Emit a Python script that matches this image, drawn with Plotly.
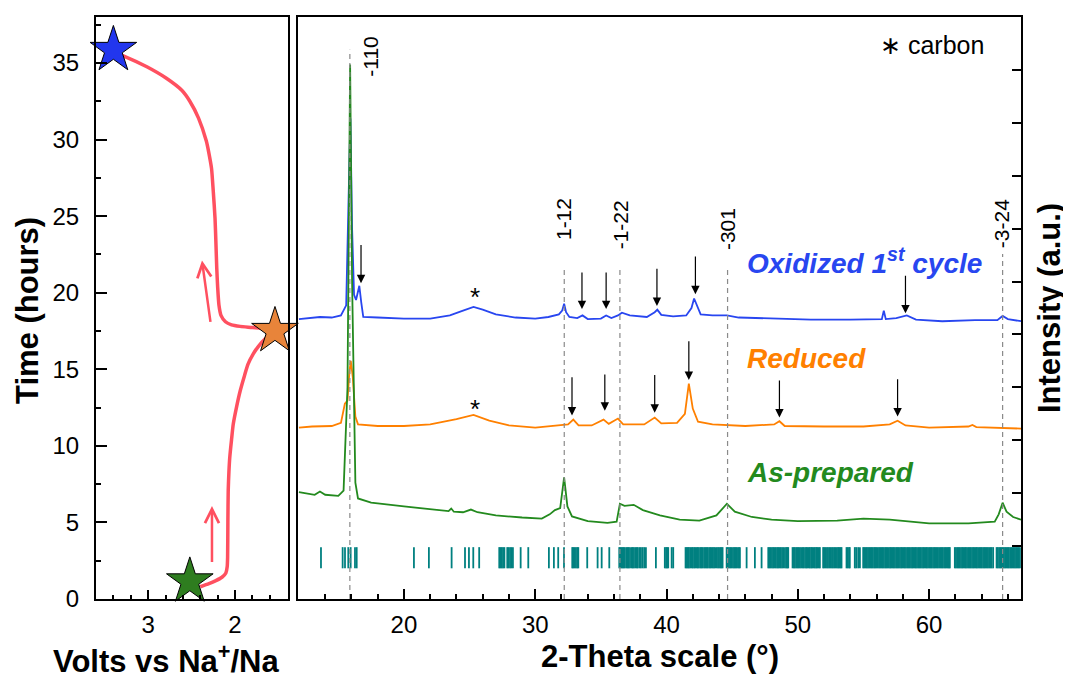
import plotly.graph_objects as go

FONT = "Liberation Sans, Arial, Helvetica, sans-serif"

# ---------------- Left panel: galvanostatic profile ----------------
volts = [2.40, 2.30, 2.22, 2.15, 2.105, 2.09, 2.085, 2.082, 2.078, 2.07, 2.06, 2.04,
         2.02, 1.98, 1.94, 1.89, 1.85, 1.79, 1.73, 1.64, 1.56,
         1.64, 1.80, 1.94, 2.04, 2.11, 2.16, 2.185, 2.20, 2.21, 2.22, 2.23, 2.25,
         2.27, 2.30, 2.33, 2.42, 2.52, 2.61, 2.79, 3.015, 3.26, 3.38]
hours = [0.80, 1.00, 1.20, 1.42, 1.70, 2.10, 2.75, 5.0, 7.1, 8.3, 9.26, 10.4,
         11.43, 12.6, 13.6, 14.6, 15.33, 16.0, 16.5, 17.05, 17.4,
         17.62, 17.72, 17.80, 17.90, 18.10, 18.50, 19.2, 20.4, 21.6, 23.3, 24.87, 26.6,
         28.1, 29.1, 29.9, 31.4, 32.5, 33.2, 34.0, 34.75, 35.4, 35.65]

star_volts = [3.40, 1.54, 2.52]
star_hours = [35.85, 17.5, 1.15]
star_colors = ["#2236EE", "#E8843A", "#2E7D1F"]

# ---------------- Right panel: XRD patterns ----------------
tt_oxidized = [12.0, 12.8, 13.6, 14.5, 15.2, 15.6, 15.8, 15.92, 16.05, 16.2, 16.35, 16.5,
               16.6, 16.75, 16.9, 18.0, 20.0, 22.0, 23.5, 24.5, 25.3, 26.0, 27.0, 28.5,
               30.0, 31.0, 31.8, 32.05, 32.2, 32.35, 32.6, 33.2, 33.6, 34.0, 35.0, 35.4,
               35.8, 36.3, 36.6, 37.2, 38.5, 39.1, 39.3, 39.6, 40.5, 41.5, 41.9, 42.1,
               42.3, 42.6, 43.5, 44.6, 45.5, 48.0, 51.0, 54.0, 56.4, 56.55, 56.7, 57.5,
               58.3, 59.0, 61.0, 63.5, 65.2, 65.6, 66.0, 67.0]
int_oxidized = [5.29, 5.31, 5.33, 5.32, 5.36, 5.55, 7.5, 9.08, 7.0, 5.75, 5.65, 5.85,
                5.92, 5.6, 5.33, 5.32, 5.30, 5.30, 5.36, 5.45, 5.52, 5.47, 5.38, 5.32,
                5.30, 5.33, 5.38, 5.45, 5.58, 5.42, 5.33, 5.31, 5.36, 5.29, 5.30, 5.36,
                5.31, 5.36, 5.41, 5.36, 5.33, 5.42, 5.47, 5.37, 5.34, 5.36, 5.50, 5.68,
                5.55, 5.38, 5.36, 5.36, 5.32, 5.30, 5.28, 5.28, 5.29, 5.45, 5.29, 5.31,
                5.36, 5.28, 5.25, 5.27, 5.27, 5.35, 5.29, 5.25]

tt_reduced = [12.0, 13.0, 14.5, 15.2, 15.5, 15.7, 15.85, 15.95, 16.1, 16.3, 16.5, 18.0,
              20.0, 22.0, 24.0, 25.3, 26.5, 28.0, 30.0, 31.5, 32.5, 32.9, 33.3, 34.3,
              35.2, 35.6, 36.3, 36.7, 38.3, 39.1, 39.6, 40.8, 41.4, 41.7, 42.0, 42.4,
              43.5, 46.0, 48.2, 48.6, 49.0, 52.0, 55.0, 57.0, 57.6, 58.2, 60.0, 63.0,
              63.3, 63.6, 67.0]
int_reduced = [3.24, 3.26, 3.27, 3.33, 3.69, 3.75, 4.30, 4.50, 4.20, 3.45, 3.30, 3.27,
               3.27, 3.30, 3.40, 3.48, 3.37, 3.28, 3.24, 3.27, 3.30, 3.39, 3.28, 3.28,
               3.39, 3.31, 3.41, 3.30, 3.30, 3.43, 3.32, 3.33, 3.50, 4.07, 3.60, 3.35,
               3.30, 3.27, 3.30, 3.36, 3.27, 3.26, 3.26, 3.30, 3.37, 3.28, 3.24, 3.26,
               3.29, 3.25, 3.22]

tt_asprep = [12.0, 13.2, 13.6, 14.0, 15.0, 15.4, 15.7, 15.9, 16.05, 16.3, 16.5, 17.5,
             20.0, 22.0, 23.4, 23.6, 23.8, 24.5, 25.1, 25.6, 27.0, 29.0, 30.5, 31.1,
             31.5, 31.9, 32.2, 32.45, 32.8, 34.0, 35.5, 36.2, 36.45, 36.8, 37.5, 38.2,
             39.5, 41.0, 42.5, 43.8, 44.6, 45.2, 46.5, 48.0, 50.0, 53.0, 55.0, 57.0,
             60.0, 63.0, 65.0, 65.3, 65.6, 65.9, 66.4, 67.0]
int_asprep = [2.02, 1.97, 2.03, 1.97, 1.95, 2.05, 4.0, 10.1, 6.0, 2.2, 1.90, 1.82,
              1.75, 1.70, 1.66, 1.71, 1.65, 1.64, 1.69, 1.64, 1.58, 1.54, 1.52, 1.60,
              1.68, 1.72, 2.30, 1.75, 1.56, 1.47, 1.44, 1.46, 1.80, 1.76, 1.78, 1.68,
              1.58, 1.50, 1.48, 1.58, 1.80, 1.65, 1.55, 1.50, 1.47, 1.48, 1.52, 1.50,
              1.43, 1.43, 1.46, 1.60, 1.82, 1.65, 1.55, 1.50]

# reference reflection positions (teal bars)
ref_positions = [
    13.68, 15.33, 15.51, 15.76, 15.94, 16.27, 16.40, 20.76, 21.90, 23.63, 24.65, 24.95,
    25.28, 25.73, 27.26, 27.35, 27.45, 27.55, 27.65, 27.87, 27.97, 28.08, 28.18, 28.30,
    28.89, 29.47, 31.04, 31.42, 31.75, 32.19, 32.82, 32.90, 33.00, 33.10, 33.20, 33.28,
    33.96, 34.75, 35.06, 35.64,
    36.40, 36.48, 36.57, 36.66, 36.74, 36.83, 36.95, 37.04, 37.12, 37.22, 37.35, 37.43,
    37.52, 37.63, 37.74, 37.82, 37.95, 38.05, 38.17, 38.30, 38.43,
    39.19, 39.87, 39.97, 40.05, 40.13, 40.39, 40.51,
    41.45, 41.53, 41.62, 41.70, 41.80, 41.92, 42.00, 42.10, 42.18, 42.30, 42.38, 42.47,
    42.58, 42.66, 42.75, 42.86, 42.95, 43.05, 43.13, 43.24, 43.33, 43.42, 43.53, 43.62,
    43.70, 43.82, 43.92, 44.00, 44.10, 44.18, 44.27,
    44.58, 44.67, 44.76, 44.86, 44.95, 45.06, 45.15, 45.25, 45.33, 45.44, 45.52, 45.59,
    46.10, 46.73, 47.24,
    47.75, 47.84, 47.93, 48.03, 48.12, 48.22, 48.32, 48.42, 48.50, 48.60, 48.70, 48.80,
    48.90, 49.02, 49.12, 49.20, 49.27,
    49.60, 49.70, 49.78, 49.88, 49.98, 50.06, 50.16, 50.25, 50.36, 50.44, 50.55, 50.64,
    50.72, 50.83, 50.92, 51.02, 51.10, 51.20, 51.30, 51.40, 51.48, 51.58, 51.68,
    51.93, 52.02, 52.12, 52.22, 52.30, 52.40, 52.50, 52.60, 52.68, 52.78, 52.88, 52.98,
    53.07, 53.16, 53.25, 53.33, 53.71, 53.80, 53.90, 53.96, 54.34, 54.45, 54.60, 54.73,
    54.98, 55.07, 55.16, 55.26, 55.35, 55.44, 55.54, 55.63, 55.72, 55.82, 55.91, 56.00,
    56.10, 56.19, 56.28, 56.38, 56.47, 56.56, 56.66, 56.75, 56.84, 56.94, 57.03, 57.12,
    57.22, 57.31, 57.40, 57.50, 57.59, 57.68, 57.78, 57.87, 57.96, 58.06, 58.15, 58.24,
    58.34, 58.43, 58.52, 58.62, 58.71, 58.80, 58.90, 58.99, 59.08, 59.18, 59.27, 59.36,
    59.46, 59.55, 59.64, 59.74, 59.83, 59.92, 60.02, 60.11, 60.20, 60.30, 60.39, 60.48,
    60.58, 60.67, 60.76, 60.86, 60.95, 61.04, 61.14, 61.23, 61.32, 61.42, 61.50, 61.58,
    61.96, 62.05, 62.15, 62.24, 62.33, 62.43, 62.52, 62.61, 62.71, 62.80, 62.89, 62.99,
    63.08, 63.17, 63.27, 63.36, 63.45, 63.55, 63.64, 63.73, 63.83, 63.92, 64.01, 64.11,
    64.20, 64.29, 64.39, 64.48, 64.57, 64.67, 64.76, 64.88,
    65.14, 65.23, 65.33, 65.42, 65.51, 65.61, 65.70, 65.79, 65.89, 65.98, 66.07, 66.17,
    66.26, 66.35, 66.45, 66.54, 66.63, 66.73, 66.82, 66.92]
ref_bar_bottom = 0.58
ref_bar_top = 0.98

# Miller indices with dashed guide lines
hkl_labels = ["-110", "1-12", "-1-22", "-301", "-3-24"]
hkl_positions = [15.88, 32.21, 36.45, 44.65, 65.60]
hkl_line_tops = [10.38, 6.29, 6.29, 6.29, 6.52]
hkl_label_x = [17.49, 32.11, 36.45, 44.60, 65.54]
hkl_label_y = [10.25, 7.18, 7.08, 6.99, 7.10]

# black arrows (new peaks): x, tail y, tip y
arrow_ox_x = [16.73, 33.56, 35.40, 39.27, 42.20, 58.20]
arrow_ox_tail = [6.72, 6.20, 6.20, 6.27, 6.50, 6.14]
arrow_ox_tip = [5.97, 5.48, 5.48, 5.54, 5.76, 5.40]
arrow_red_x = [32.80, 35.30, 39.10, 41.70, 48.60, 57.60]
arrow_red_tail = [4.22, 4.27, 4.26, 4.90, 4.16, 4.18]
arrow_red_tip = [3.47, 3.56, 3.52, 4.14, 3.43, 3.45]

carbon_x = [25.41, 25.41]
carbon_y = [5.82, 3.71]

series_names = ["<b><i>Oxidized 1<sup>st</sup> cycle</i></b>", "<b><i>Reduced</i></b>",
                "<b><i>As-prepared</i></b>"]
series_label_y = [6.39, 4.54, 2.39]
series_colors = ["#2846F0", "#FF8000", "#238A1E"]

RED = "#FF5060"

fig = go.Figure()

# left panel curve
fig.add_trace(go.Scatter(x=volts, y=hours, mode="lines", xaxis="x", yaxis="y",
                         line=dict(color=RED, width=3.5, shape="spline", smoothing=0.6),
                         showlegend=False, hoverinfo="skip"))
fig.add_trace(go.Scatter(x=star_volts, y=star_hours, mode="markers", xaxis="x", yaxis="y",
                         marker=dict(symbol="star", size=35, color=star_colors,
                                     line=dict(color="black", width=1)),
                         cliponaxis=False, showlegend=False, hoverinfo="skip"))

# XRD traces
fig.add_trace(go.Scatter(x=tt_oxidized, y=int_oxidized, mode="lines", xaxis="x2", yaxis="y2",
                         line=dict(color=series_colors[0], width=1.8), showlegend=False))
fig.add_trace(go.Scatter(x=tt_reduced, y=int_reduced, mode="lines", xaxis="x2", yaxis="y2",
                         line=dict(color=series_colors[1], width=1.8), showlegend=False))
fig.add_trace(go.Scatter(x=tt_asprep, y=int_asprep, mode="lines", xaxis="x2", yaxis="y2",
                         line=dict(color=series_colors[2], width=1.8), showlegend=False))

# reference bars
bx, by = [], []
for p in ref_positions:
    bx += [p, p, None]
    by += [ref_bar_bottom, ref_bar_top, None]
fig.add_trace(go.Scatter(x=bx, y=by, mode="lines", xaxis="x2", yaxis="y2",
                         line=dict(color="#008080", width=1.8), showlegend=False,
                         hoverinfo="skip"))

# dashed hkl guide lines
dx, dy = [], []
for p, t in zip(hkl_positions, hkl_line_tops):
    dx += [p, p, None]
    dy += [0, t, None]
fig.add_trace(go.Scatter(x=dx, y=dy, mode="lines", xaxis="x2", yaxis="y2",
                         line=dict(color="#8a8a8a", width=1.2, dash="5px,4px"),
                         showlegend=False, hoverinfo="skip"))

ann = []
for lab, lx, ly in zip(hkl_labels, hkl_label_x, hkl_label_y):
    ann.append(dict(x=lx, y=ly, xref="x2", yref="y2", text=lab, showarrow=False,
                    textangle=-90, font=dict(family=FONT, size=21, color="black")))
for xs, tails, tips in [(arrow_ox_x, arrow_ox_tail, arrow_ox_tip),
                        (arrow_red_x, arrow_red_tail, arrow_red_tip)]:
    for ax_, ta, ti in zip(xs, tails, tips):
        ann.append(dict(x=ax_, y=ti, ax=ax_, ay=ta, xref="x2", yref="y2",
                        axref="x2", ayref="y2", text="", showarrow=True,
                        arrowhead=2, arrowsize=1.4, arrowwidth=1.2, arrowcolor="black"))
for cx, cy in zip(carbon_x, carbon_y):
    ann.append(dict(x=cx, y=cy, xref="x2", yref="y2", text="*", showarrow=False,
                    yshift=-6, font=dict(family=FONT, size=26, color="black")))
for name, ly, col in zip(series_names, series_label_y, series_colors):
    ann.append(dict(x=45.97, y=ly, xref="x2", yref="y2", text=name, showarrow=False,
                    xanchor="left", font=dict(family=FONT, size=28, color=col)))
ann.append(dict(x=60.21, y=10.47, xref="x2", yref="y2", text="\u2217 carbon", showarrow=False,
                font=dict(family=FONT, size=25, color="black")))

# red direction arrows in left panel
ann.append(dict(x=2.265, y=6.07, ax=2.265, ay=2.32, xref="x", yref="y", axref="x", ayref="y",
                text="", showarrow=True, arrowhead=5, arrowsize=1.1, arrowwidth=2.5,
                arrowcolor=RED))
ann.append(dict(x=2.38, y=22.1, ax=2.28, ay=18.0, xref="x", yref="y", axref="x", ayref="y",
                text="", showarrow=True, arrowhead=5, arrowsize=1.1, arrowwidth=2.5,
                arrowcolor=RED))

# page geometry (the page body adds an 8 px offset)
BODY = 8
FIG_W, FIG_H = 1071 - BODY, 680 - BODY
PLOT_L, PLOT_R, PLOT_T, PLOT_B = 96, 1021, 15, 599   # screen pixels
PW, PH = PLOT_R - PLOT_L, PLOT_B - PLOT_T


def fx(px):
    return (px - PLOT_L) / PW


def fy(py):
    return (PLOT_B - py) / PH


title_font = dict(family=FONT, size=31, color="black")
title_common = dict(xref="paper", yref="paper", showarrow=False, font=title_font,
                    xanchor="center", yanchor="middle")
ann.append(dict(x=fx(28), y=fy(310), text="<b>Time (hours)</b>", textangle=-90,
                **title_common))
ann.append(dict(x=fx(166), y=fy(659), text="<b>Volts vs Na<sup>+</sup>/Na</b>",
                **title_common))
ann.append(dict(x=fx(660), y=fy(657), text="<b>2-Theta scale (°)</b>", **title_common))
ann.append(dict(x=fx(1049), y=fy(307), text="<b>Intensity (a.u.)</b>", textangle=-90,
                **title_common))

tick_font = dict(family=FONT, size=24, color="black")
common = dict(showline=True, linecolor="black", linewidth=2, mirror=True, ticks="inside",
              tickcolor="black", tickwidth=2, showgrid=False, zeroline=False,
              tickfont=tick_font)

split_l = fx(288)
split_r = fx(298)

fig.update_layout(
    width=FIG_W, height=FIG_H,
    margin=dict(l=PLOT_L - BODY, r=1071 - PLOT_R, t=PLOT_T - BODY, b=680 - PLOT_B),
    paper_bgcolor="white", plot_bgcolor="white",
    showlegend=False,
    annotations=ann,
    xaxis=dict(domain=[0, split_l], range=[3.6, 1.39], anchor="y", dtick=1, tick0=0,
               ticklen=9, ticklabelstandoff=3,
               minor=dict(dtick=0.2, tick0=0, ticks="inside", ticklen=4, tickwidth=1.5,
                          tickcolor="black"),
               **common),
    yaxis=dict(domain=[0, 1], range=[0, 38], anchor="x", dtick=5, ticklen=11,
               ticklabelstandoff=10,
               minor=dict(dtick=2.5, ticks="inside", ticklen=5, tickwidth=1.5,
                          tickcolor="black"),
               **common),
    xaxis2=dict(domain=[split_r, 1], range=[11.93, 67.0], anchor="y2", dtick=10, tick0=0,
                ticklen=10, ticklabelstandoff=3,
                minor=dict(dtick=2, tick0=0, ticks="inside", ticklen=5, tickwidth=1.5,
                           tickcolor="black"),
                **common),
    yaxis2=dict(domain=[0, 1], range=[0, 11], anchor="x2", side="right", dtick=1,
                ticklen=9, showticklabels=False, **common),
)

fig.write_html("out.html")
